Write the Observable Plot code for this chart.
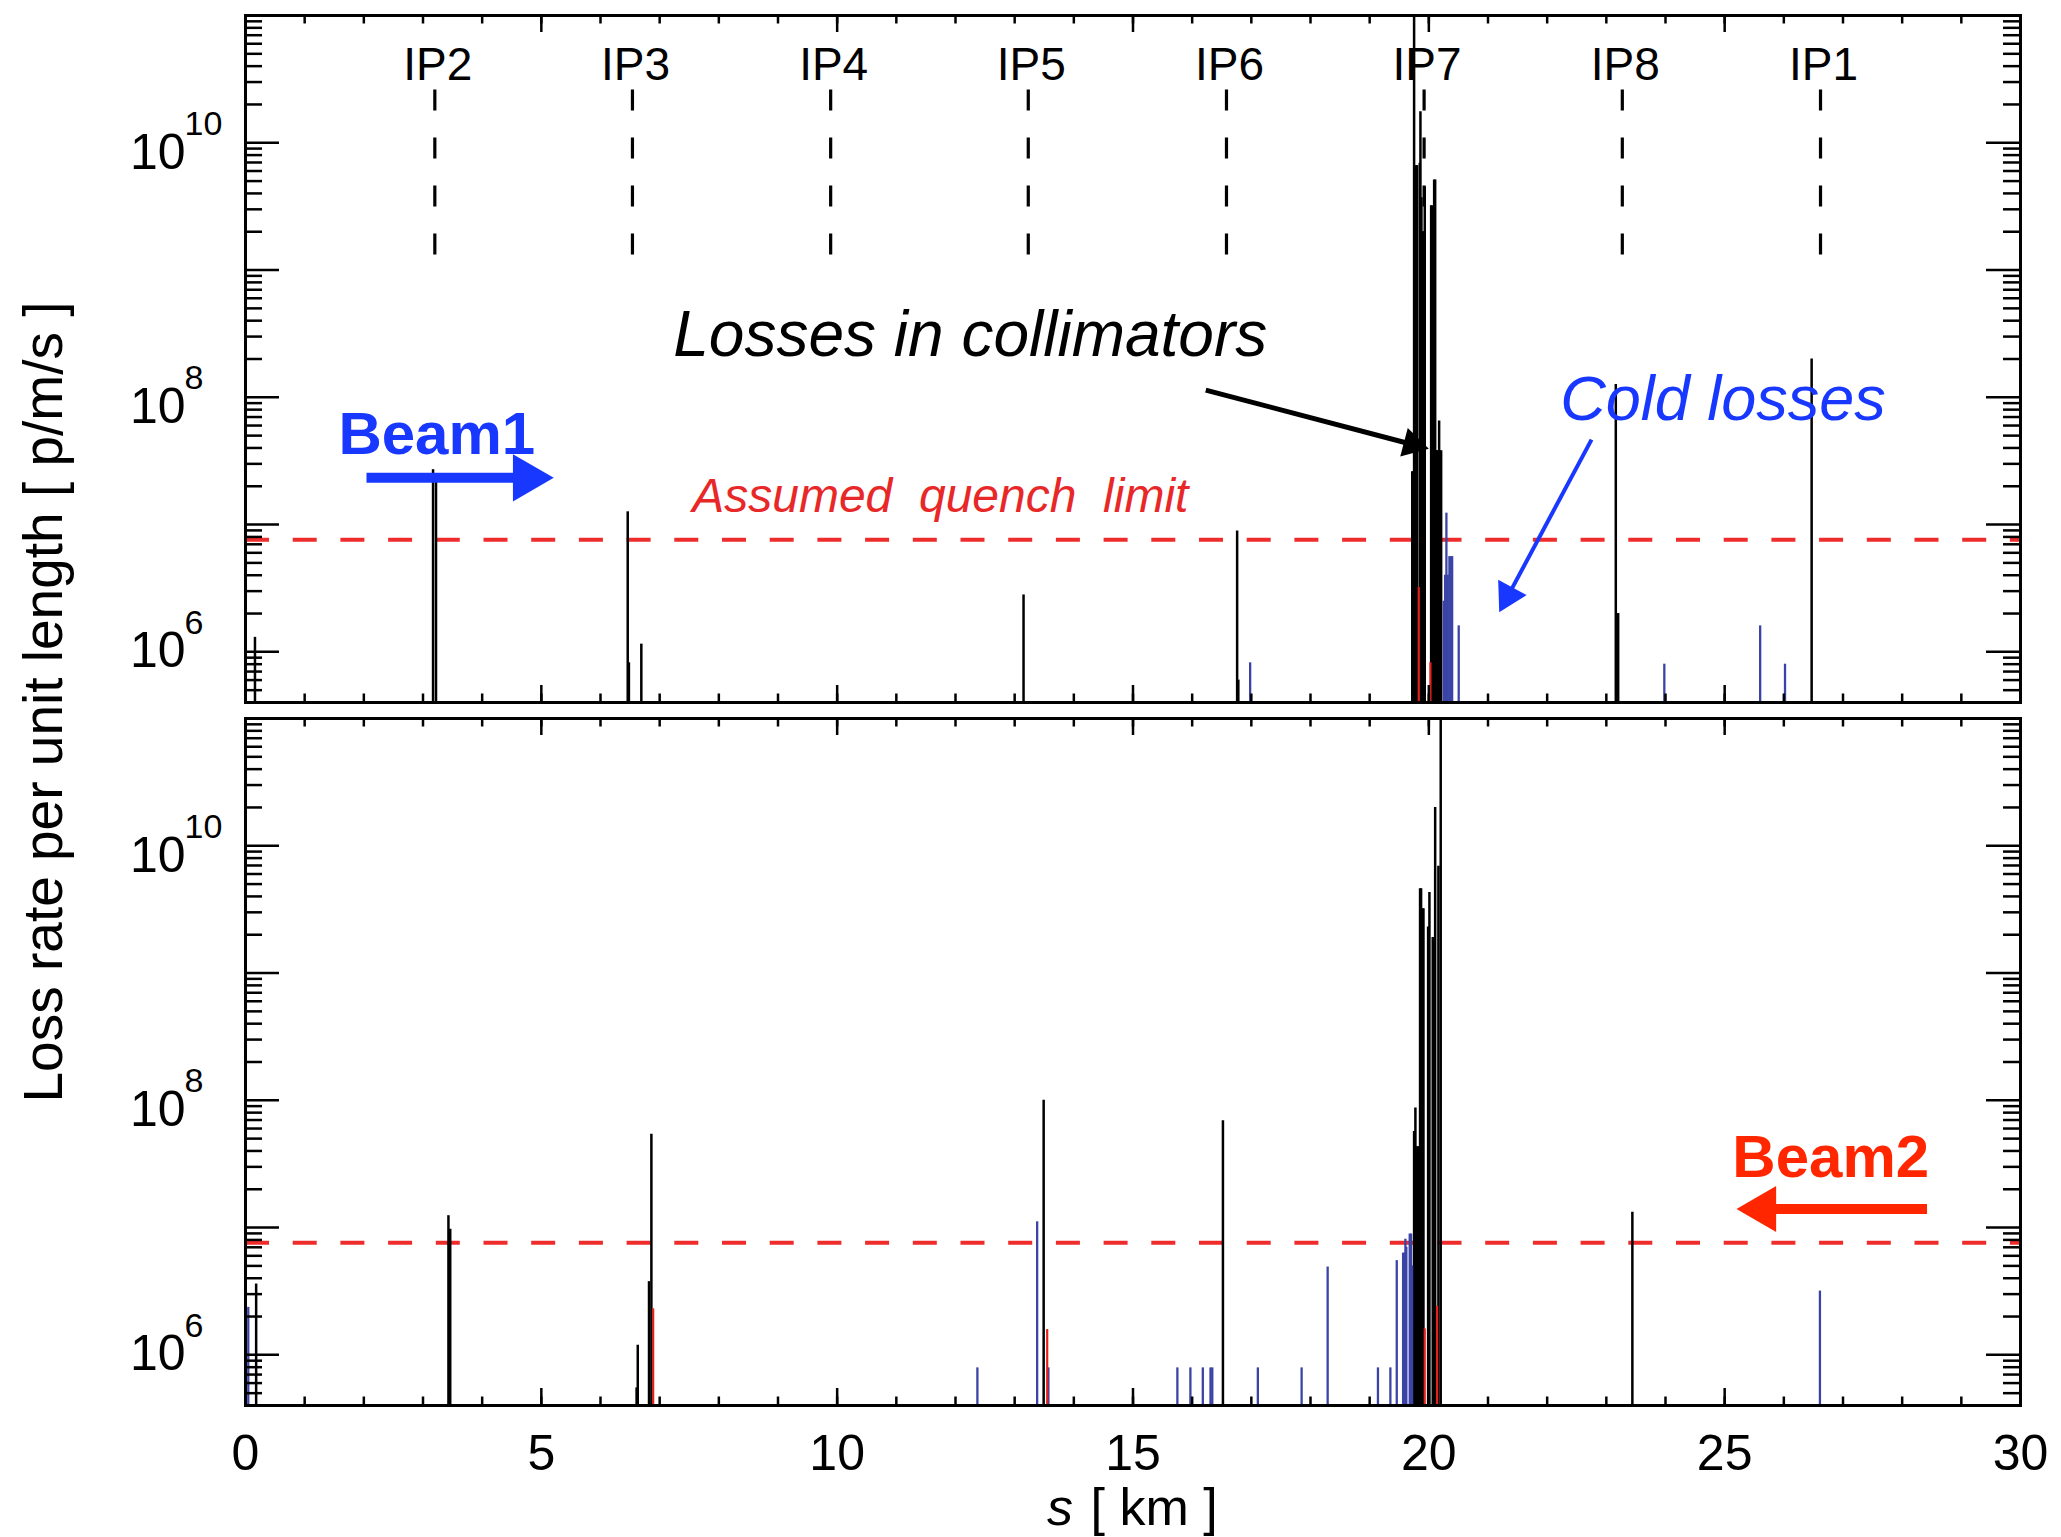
<!DOCTYPE html>
<html>
<head>
<meta charset="utf-8">
<script src="https://cdn.jsdelivr.net/npm/d3@7"></script>
<script src="https://cdn.jsdelivr.net/npm/@observablehq/plot@0.6"></script>
<style>
  html, body { margin: 0; padding: 0; background: #fff; }
  #chart { position: relative; width: 2061px; height: 1537px; background: #fff; overflow: hidden;
           font-family: "Liberation Sans", Arial, Helvetica, sans-serif; }
  #chart svg { display: block; }
  #ylab { position: absolute; left: 43px; top: 702px; transform: translate(-50%, -50%) rotate(-90deg);
          font-size: 55px; line-height: 1; white-space: nowrap; color: #000; }
</style>
</head>
<body>
<div id="chart"><div id="ylab">Loss rate per unit length [ p/m/s ]</div></div>
<script>
// ---------------- data ----------------
const ipNames = ["IP2", "IP3", "IP4", "IP5", "IP6", "IP7", "IP8", "IP1"];
const ipS = [3.20, 6.54, 9.89, 13.23, 16.58, 19.92, 23.27, 26.62];   // km
const quenchLimit = 7.6e6;                                           // p/m/s
const yMin = 4e5, yMax = 1e11;
const xTickLabels = [0, 5, 10, 15, 20, 25, 30];
const yLabelExponents = [6, 8, 10];

// Beam 1 losses [s (km), loss rate (p/m/s)]
const beam1Black = [
  [0.16, 1.3e6], [3.17, 2.7e7], [3.22, 2.2e7], [6.46, 1.26e7], [6.48, 8.2e5], [6.69, 1.15e6],
  [13.15, 2.8e6], [16.76, 8.9e6], [16.78, 6.0e5],
  [19.72, 2.6e7], [19.734, 2.6e7], [19.751, 1e11], [19.765, 2.6e7], [19.779, 6.6e9], [19.79, 6.6e9],
  [19.801, 6.6e9], [19.847, 6.9e9], [19.858, 1.75e10], [19.875, 3.7e9], [19.892, 2.0e9], [19.909, 2.0e9],
  [19.931, 4.5e9], [20.039, 3.2e9], [20.056, 3.2e9], [20.073, 3.8e7], [20.09, 5.1e9], [20.107, 5.1e9],
  [20.124, 3.8e7], [20.14, 3.8e7], [20.157, 3.8e7], [20.174, 6.5e7], [20.191, 3.8e7], [20.208, 3.8e7],
  [23.16, 1.26e8], [23.20, 2.0e6], [26.47, 2.0e8]
];
const beam1Blue = [
  [16.98, 8.2e5], [20.252, 2.5e6], [20.275, 4.0e6], [20.297, 1.23e7], [20.32, 4.0e6], [20.348, 5.6e6],
  [20.37, 5.6e6], [20.394, 5.6e6], [20.505, 1.6e6], [23.98, 8.0e5], [25.60, 1.6e6], [26.02, 8.0e5]
];
const beam1Red = [[19.83, 3.2e6], [20.027, 8.2e5]];

// Beam 2 losses
const beam2Black = [
  [0.18, 3.6e6], [3.43, 1.24e7], [3.46, 9.7e6], [6.61, 5.5e5], [6.63, 1.19e6], [6.82, 3.76e6], [6.86, 5.4e7],
  [13.49, 1.0e8], [16.52, 6.9e7],
  [19.751, 5.7e7], [19.762, 5.7e7], [19.773, 8.7e7], [19.79, 4.3e7], [19.80, 4.3e7], [19.813, 4.3e7],
  [19.825, 4.3e7], [19.835, 4.3e7], [19.852, 4.6e9], [19.869, 4.6e9], [19.892, 3.2e9], [19.909, 3.2e9],
  [19.988, 2.3e9], [20.01, 4.3e9], [20.066, 1.9e9], [20.107, 2.0e10], [20.162, 6.9e9], [20.201, 1e11],
  [23.44, 1.32e7]
];
const beam2Blue = [
  [0.047, 2.36e6], [12.37, 7.9e5], [13.38, 1.11e7], [13.57, 7.9e5], [15.75, 7.9e5], [15.97, 7.9e5],
  [16.18, 7.9e5], [16.31, 7.9e5], [16.34, 7.9e5], [17.11, 7.9e5], [17.85, 7.9e5], [18.29, 4.9e6],
  [19.14, 7.9e5], [19.35, 7.9e5], [19.458, 5.5e6], [19.565, 6.3e6], [19.587, 6.3e6], [19.604, 8.1e6],
  [19.62, 7.0e6], [19.677, 8.9e6], [19.70, 8.9e6], [19.717, 5.0e6], [26.61, 3.17e6]
];
const beam2Red = [[6.89, 2.3e6], [13.55, 1.58e6], [19.931, 1.6e6], [20.14, 2.4e6]];

// annotations (data coordinates: s in km, value in p/m/s)
const notesTop = [
  {key: "losses", text: "Losses in collimators", s: 7.23, v: 2.12e8},
  {key: "cold", text: "Cold losses", s: 22.22, v: 6.67e7},
  {key: "limit", text: "Assumed\u00a0 quench\u00a0 limit", s: 7.55, v: 1.26e7},
  {key: "beam1", text: "Beam1", s: 1.57, v: 3.6e7}
];
const notesBottom = [
  {key: "beam2", text: "Beam2", s: 25.13, v: 2.49e7}
];
const arrowsTop = [
  {key: "losses", s1: 16.23, v1: 1.14e8, s2: 20.0, v2: 3.94e7},
  {key: "cold", s1: 22.75, v1: 4.65e7, s2: 21.19, v2: 2.05e6},
  {key: "beam1", s1: 2.045, v1: 2.33e7, s2: 5.21, v2: 2.33e7}
];
const arrowsBottom = [
  {key: "beam2", s1: 28.42, v1: 1.4e7, s2: 25.2, v2: 1.4e7}
];

// ---------------- styles ----------------
const FONT = "'Liberation Sans', Arial, Helvetica, sans-serif";
const W = 2061, ML = 245, MR = 41;
const PW = W - ML - MR;
const C = {
  black: "#000", spikeBlue: "#3b44a6", spikeRed: "#e3211c",
  limit: "#ee2c2c", limitText: "#e82828", blue: "#1838ff", beam2: "#ff2600"
};
const noteStyle = {
  losses: {fill: C.black, fontSize: 64, fontStyle: "italic", fontWeight: "normal"},
  cold:   {fill: C.blue, fontSize: 63, fontStyle: "italic", fontWeight: "normal"},
  limit:  {fill: C.limitText, fontSize: 48, fontStyle: "italic", fontWeight: "normal"},
  beam1:  {fill: C.blue, fontSize: 60, fontStyle: "normal", fontWeight: "bold"},
  beam2:  {fill: C.beam2, fontSize: 60, fontStyle: "normal", fontWeight: "bold"}
};
const arrowStyle = {
  losses: {color: C.black, width: 5, r: 11, angle: 14.7, inset: 12},
  cold:   {color: C.blue, width: 4, r: 12, angle: 118.1, inset: 14},
  beam1:  {color: C.blue, width: 10, r: 17.5, angle: 0, inset: 20},
  beam2:  {color: C.beam2, width: 10, r: 17, angle: 180, inset: 20}
};

// tick positions
const xMajor = d3.range(0, 31, 5);
const xMinor = d3.range(0, 31, 1);
const yMajor = d3.range(6, 11).map(e => 10 ** e);
const yMinor = [];
for (let e = 5; e <= 10; e++) for (let k = 2; k <= 9; k++) {
  const v = k * 10 ** e;
  if (v >= yMin && v < yMax) yMinor.push(v);
}

function tickMarks(H) {
  const sw = 2.5;
  return [
    Plot.ruleX(xMajor, {x: d => d, insetTop: H - 17, strokeWidth: sw}),
    Plot.ruleX(xMajor, {x: d => d, insetBottom: H - 17, strokeWidth: sw}),
    Plot.ruleX(xMinor, {x: d => d, insetTop: H - 8.5, strokeWidth: sw}),
    Plot.ruleX(xMinor, {x: d => d, insetBottom: H - 8.5, strokeWidth: sw}),
    Plot.ruleY(yMajor, {y: d => d, insetRight: PW - 34, strokeWidth: sw}),
    Plot.ruleY(yMajor, {y: d => d, insetLeft: PW - 34, strokeWidth: sw}),
    Plot.ruleY(yMinor, {y: d => d, insetRight: PW - 17, strokeWidth: sw}),
    Plot.ruleY(yMinor, {y: d => d, insetLeft: PW - 17, strokeWidth: sw})
  ];
}

function yLabels() {
  const lowest = d3.min(yLabelExponents);
  const base = {frameAnchor: "left", lineAnchor: "bottom", fill: C.black};
  return [
    Plot.text(yLabelExponents.filter(e => e !== lowest), {...base, y: e => 10 ** e, text: () => "10",
      textAnchor: "end", dx: -60, dy: 26, fontSize: 50}),
    Plot.text(yLabelExponents.filter(e => e !== lowest), {...base, y: e => 10 ** e, text: e => String(e),
      textAnchor: "start", dx: -61, dy: -8, fontSize: 34}),
    Plot.text(yLabelExponents.filter(e => e === lowest), {...base, y: e => 10 ** e, text: () => "10",
      textAnchor: "end", dx: -60, dy: 15, fontSize: 50}),
    Plot.text(yLabelExponents.filter(e => e === lowest), {...base, y: e => 10 ** e, text: e => String(e),
      textAnchor: "start", dx: -61, dy: -18, fontSize: 34})
  ];
}

function spikes(black, blue, red) {
  return [
    Plot.ruleX(black, {x: d => d[0], y1: yMin, y2: d => d[1], stroke: C.black, strokeWidth: 2.5}),
    Plot.ruleX(blue, {x: d => d[0], y1: yMin, y2: d => d[1], stroke: C.spikeBlue, strokeWidth: 2.3}),
    Plot.ruleX(red, {x: d => d[0], y1: yMin, y2: d => d[1], stroke: C.spikeRed, strokeWidth: 2.2})
  ];
}

function noteMarks(notes) {
  return notes.map(n => Plot.text([n], {
    x: d => d.s, y: d => d.v, text: d => d.text, textAnchor: "start", lineAnchor: "bottom",
    ...noteStyle[n.key]
  }));
}

function arrowMarks(arrows) {
  const out = [];
  for (const a of arrows) {
    const st = arrowStyle[a.key];
    const rad = st.angle * Math.PI / 180;
    const off = 1.555 * st.r;
    out.push(Plot.arrow([a], {x1: d => d.s1, y1: d => d.v1, x2: d => d.s2, y2: d => d.v2,
      stroke: st.color, strokeWidth: st.width, headLength: 0, insetEnd: st.inset,
      strokeLinecap: "butt", strokeLinejoin: "miter"}));
    out.push(Plot.dot([a], {x: d => d.s2, y: d => d.v2, symbol: "triangle", r: st.r,
      rotate: st.angle + 90, fill: st.color, stroke: "none",
      dx: -off * Math.cos(rad), dy: -off * Math.sin(rad)}));
  }
  return out;
}

function panel({height, marginTop, marginBottom, marks}) {
  return Plot.plot({
    width: W, height, marginLeft: ML, marginRight: MR, marginTop, marginBottom,
    x: {domain: [0, 30], axis: null},
    y: {type: "log", domain: [yMin, yMax], axis: null},
    style: {fontFamily: FONT, background: "transparent", overflow: "visible", color: "#000"},
    marks
  });
}

// ---------------- top panel (Beam 1) ----------------
const topH = 710, topMT = 15, topMB = 8;
const topPlot = panel({
  height: topH, marginTop: topMT, marginBottom: topMB,
  marks: [
    Plot.ruleY([quenchLimit], {y: d => d, stroke: C.limit, strokeWidth: 4, strokeDasharray: "24,23.7"}),
    Plot.ruleX(ipS, {x: d => d, y1: 2.6e10, y2: 1.3e9, stroke: C.black, strokeWidth: 3.2, strokeDasharray: "21,27"}),
    ...spikes(beam1Black, beam1Blue, beam1Red),
    ...tickMarks(topH - topMT - topMB),
    Plot.frame({strokeWidth: 3}),
    Plot.text(ipNames, {x: (d, i) => ipS[i], text: d => d, frameAnchor: "top", lineAnchor: "bottom",
      dy: 64, dx: 3, fontSize: 46, fill: C.black}),
    ...yLabels(),
    ...noteMarks(notesTop),
    ...arrowMarks(arrowsTop)
  ]
});

// ---------------- bottom panel (Beam 2) ----------------
const botH = 1537 - topH, botMT = 8, botMB = 132;
const bottomPlot = panel({
  height: botH, marginTop: botMT, marginBottom: botMB,
  marks: [
    Plot.ruleY([quenchLimit], {y: d => d, stroke: C.limit, strokeWidth: 4, strokeDasharray: "24,23.7"}),
    ...spikes(beam2Black, beam2Blue, beam2Red),
    ...tickMarks(botH - botMT - botMB),
    Plot.frame({strokeWidth: 3}),
    ...yLabels(),
    Plot.text(xTickLabels, {x: d => d, text: d => String(d), frameAnchor: "bottom", lineAnchor: "bottom",
      textAnchor: "middle", dy: 64, fontSize: 50, fill: C.black}),
    Plot.text(["s"], {x: () => 15, text: d => d, frameAnchor: "bottom", lineAnchor: "bottom",
      textAnchor: "start", dx: -86, dy: 119, fontSize: 52, fontStyle: "italic", fill: C.black}),
    Plot.text(["[ km ]"], {x: () => 15, text: d => d, frameAnchor: "bottom", lineAnchor: "bottom",
      textAnchor: "start", dx: -42.5, dy: 119, fontSize: 52, fill: C.black}),
    ...noteMarks(notesBottom),
    ...arrowMarks(arrowsBottom)
  ]
});

const chartEl = document.getElementById("chart");
chartEl.insertBefore(bottomPlot, chartEl.firstChild);
chartEl.insertBefore(topPlot, chartEl.firstChild);
</script>
</body>
</html>
